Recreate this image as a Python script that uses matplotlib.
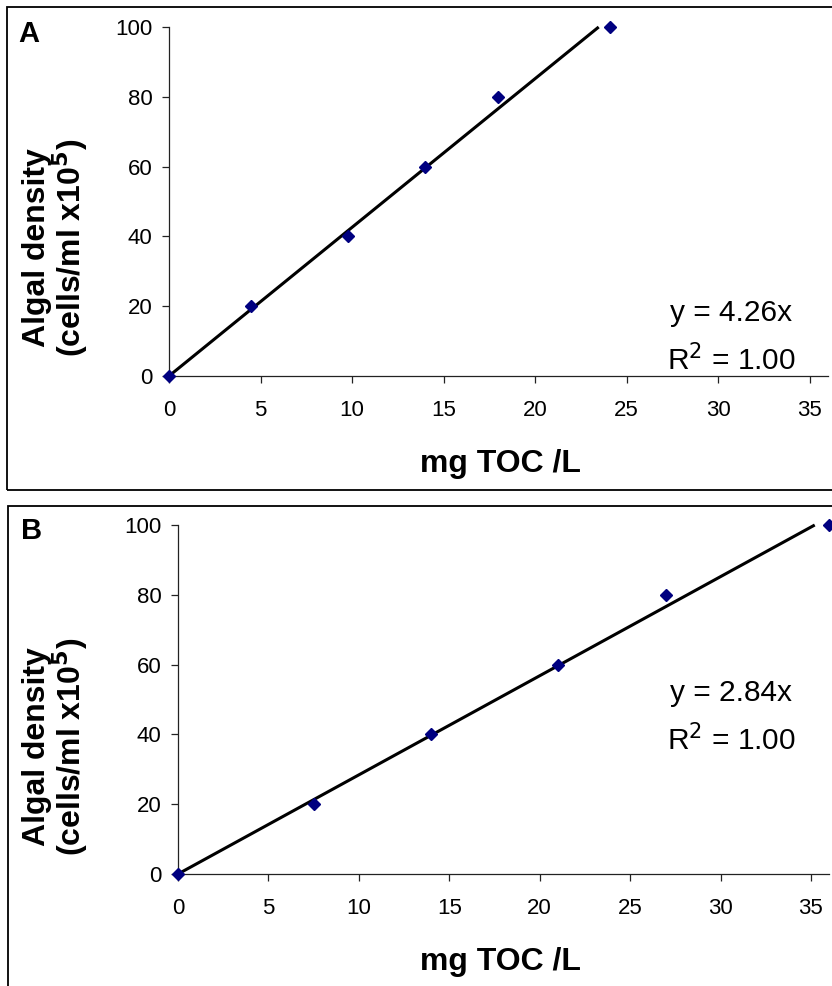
import matplotlib
matplotlib.use("Agg")
import matplotlib.pyplot as plt
from matplotlib.patches import Rectangle
import numpy as np

plt.rcParams['font.family'] = ['Liberation Sans', 'DejaVu Sans']

# Data
toc_a = [0, 4.5, 9.8, 14.0, 18.0, 24.1]
density_a = [0, 20, 40, 60, 80, 100]
slope_a = 4.26

toc_b = [0, 7.5, 14.0, 21.0, 27.0, 36.0]
density_b = [0, 20, 40, 60, 80, 100]
slope_b = 2.84

x_ticks = [0, 5, 10, 15, 20, 25, 30, 35]
y_ticks = [0, 20, 40, 60, 80, 100]
panel_labels = ["A", "B"]
eq_texts = ["y = 4.26x", "y = 2.84x"]
r2_text = "R$^2$ = 1.00"

W, H = 832, 986
fig = plt.figure(figsize=(W / 100, H / 100), dpi=100)

def fx(px):
    return px / W

def fy(py):
    return 1 - py / H

# Panel boxes
fig.patches.append(Rectangle((fx(7), fy(490)), fx(840) - fx(7), fy(7) - fy(490),
                             transform=fig.transFigure, fill=False, edgecolor='black',
                             linewidth=1.3, clip_on=False))
fig.patches.append(Rectangle((fx(8), fy(1000)), fx(840) - fx(8), fy(506) - fy(1000),
                             transform=fig.transFigure, fill=False, edgecolor='black',
                             linewidth=1.3, clip_on=False))

panels = [
    dict(left=169, right=828, top=27, bottom=376, x=toc_a, y=density_a, slope=slope_a,
         label_xy=(18, 42), eq_y=313, r2_y=360, ylab_x=(37, 70), ylab_y=248, xlab_y=464),
    dict(left=178, right=829, top=525, bottom=874, x=toc_b, y=density_b, slope=slope_b,
         label_xy=(21, 539), eq_y=693, r2_y=740, ylab_x=(37, 70), ylab_y=747, xlab_y=962),
]

for i, p in enumerate(panels):
    ax = fig.add_axes([fx(p['left']), fy(p['bottom']), fx(p['right']) - fx(p['left']),
                       fy(p['top']) - fy(p['bottom'])])
    ax.set_xlim(0, 36)
    ax.set_ylim(0, 100)
    for s in ['top', 'right']:
        ax.spines[s].set_visible(False)
    for s in ['left', 'bottom']:
        ax.spines[s].set_linewidth(0.9)
        ax.spines[s].set_color('#222222')
    ax.set_xticks(x_ticks)
    ax.set_yticks(y_ticks)
    ax.tick_params(axis='both', direction='out', length=5, width=0.9, color='#222222',
                   labelsize=16)
    ax.tick_params(axis='x', pad=12)
    ax.tick_params(axis='y', pad=7)
    xe = 100 / p['slope']
    ax.plot([0, xe], [0, p['slope'] * xe], color='black', linewidth=2.2,
            solid_capstyle='butt', zorder=2, clip_on=False)
    ax.plot(p['x'], p['y'], linestyle='none', marker='D', markersize=6.5,
            color='#000080', zorder=3, clip_on=False)

    # equation texts
    fig.text(fx(731), fy(p['eq_y']), eq_texts[i], ha='center', va='center', fontsize=21.5)
    fig.text(fx(731), fy(p['r2_y']), r2_text, ha='center', va='center', fontsize=21.5)

    # panel letter
    fig.text(fx(p['label_xy'][0]), fy(p['label_xy'][1]), panel_labels[i], ha='left',
             va='baseline', fontsize=21, fontweight='bold')

    # y label, two lines
    fig.text(fx(p['ylab_x'][0]), fy(p['ylab_y']), "Algal density", rotation=90, ha='center',
             va='center', fontsize=23, fontweight='bold')
    fig.text(fx(p['ylab_x'][1]), fy(p['ylab_y']), "(cells/ml x10$^{\\mathbf{5}}$)", rotation=90,
             ha='center', va='center', fontsize=23, fontweight='bold')

    # x label
    fig.text(fx(500), fy(p['xlab_y']), "mg TOC /L", ha='center', va='center',
             fontsize=23, fontweight='bold')

fig.savefig("out.png", dpi=100)
